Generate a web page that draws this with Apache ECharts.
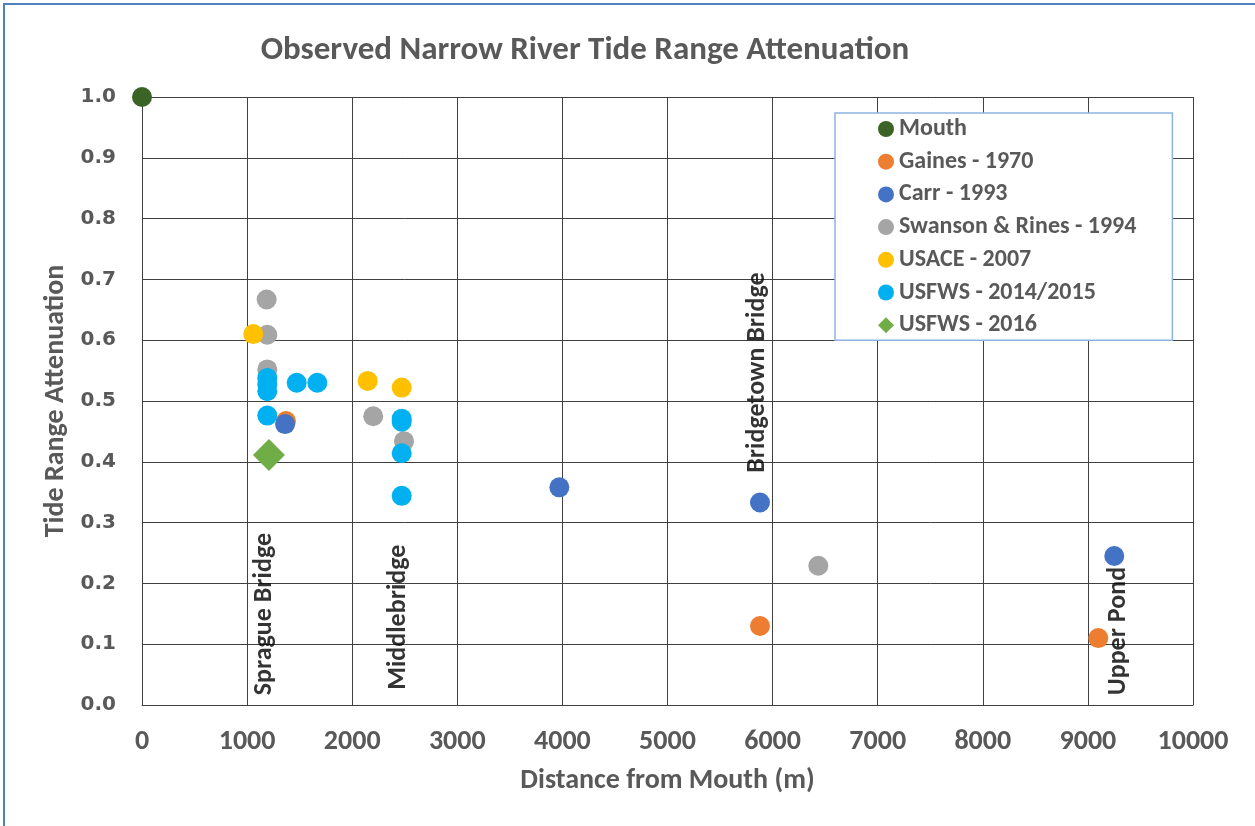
<!DOCTYPE html>
<html>
<head>
<meta charset="utf-8">
<script src="https://cdn.jsdelivr.net/npm/echarts@6/dist/echarts.min.js"></script>
<style>html,body{margin:0;padding:0;background:#fff}#c{width:1255px;height:826px}</style>
</head>
<body>
<div id="c"></div>
<script>
const xTicks = [0,1000,2000,3000,4000,5000,6000,7000,8000,9000,10000];
const yTicks = [0,0.1,0.2,0.3,0.4,0.5,0.6,0.7,0.8,0.9,1.0];
const mouth = [[0,1.0]];
const gaines = [[1370,0.467],[5880,0.130],[9099,0.110]];
const carr = [[1361,0.462],[3971,0.358],[5880,0.333],[9251,0.245]];
const swanson = [[1186,0.667],[1192,0.609],[1192,0.552],[2200,0.475],[2493,0.434],[6435,0.229]];
const usace = [[1059,0.610],[2147,0.533],[2471,0.522]];
const usfws1415 = [[1192,0.538],[1192,0.527],[1192,0.516],[1472,0.530],[1668,0.530],[1192,0.476],[2471,0.471],[2471,0.466],[2471,0.414],[2471,0.344]];
const usfws2016 = [[1208,0.411]];
const siteLabels = [[1170,0.016,'Sprague Bridge'],[2436,0.025,'Middlebridge'],[5861,0.382,'Bridgetown Bridge'],[9287,0.016,'Upper Pond']];

const FONT = 'Carlito, Lato, "Liberation Sans", sans-serif';
const WIDE = '"DejaVu Sans", Verdana, sans-serif';
const GRAY = '#595959';
const chart = echarts.init(document.getElementById('c'));
function sc(name, data, color, extra) {
  return Object.assign({
    name: name, type: 'scatter', data: data, symbol: 'circle', symbolSize: 20,
    itemStyle: {color: color, opacity: 1}
  }, extra || {});
}
chart.setOption({
  animation: false,
  backgroundColor: '#fff',
  graphic: [{type: 'rect', shape: {x: 4, y: 4, width: 1300, height: 900}, style: {fill: 'none', stroke: '#4f81bd', lineWidth: 2}, silent: true}],
  title: {text: 'Observed Narrow River Tide Range Attenuation', left: 580, top: 29, textAlign: 'center',
    textStyle: {fontFamily: FONT, fontSize: 33, fontWeight: 'bold', color: GRAY}},
  grid: {left: 142, right: 62, top: 97, bottom: 121},
  legend: {
    orient: 'vertical', left: 835, top: 113,
    backgroundColor: '#fff', borderColor: '#8db3e2', borderWidth: 1.5,
    padding: [4, 36, 3, 43], itemGap: 8.7, itemWidth: 16, itemHeight: 16,
    textStyle: {fontFamily: FONT, fontSize: 24, fontWeight: 'bold', color: GRAY, lineHeight: 24},
    data: ['Mouth','Gaines - 1970','Carr - 1993','Swanson & Rines - 1994','USACE - 2007','USFWS - 2014/2015','USFWS - 2016']
  },
  xAxis: {
    type: 'value', min: 0, max: 10000, interval: 1000,
    name: 'Distance from Mouth (m)', nameLocation: 'middle', nameGap: 62,
    nameTextStyle: {fontFamily: FONT, fontSize: 28, fontWeight: 'bold', color: GRAY},
    axisLine: {show: true, lineStyle: {color: '#404040'}}, axisTick: {show: false},
    axisLabel: {fontFamily: FONT, fontSize: 28, fontWeight: 'bold', color: GRAY, margin: 23, formatter: v => String(v)},
    splitLine: {show: true, lineStyle: {color: '#404040', width: 1}}
  },
  yAxis: {
    type: 'value', min: 0, max: 1.0, interval: 0.1,
    name: 'Tide Range Attenuation', nameLocation: 'middle', nameGap: 70,
    nameTextStyle: {fontFamily: FONT, fontSize: 28, fontWeight: 'bold', color: GRAY},
    axisLine: {show: true, lineStyle: {color: '#404040'}}, axisTick: {show: false},
    axisLabel: {fontFamily: WIDE, fontSize: 20, fontWeight: 'bold', color: GRAY, margin: 26, formatter: v => v.toFixed(1)},
    splitLine: {show: true, lineStyle: {color: '#404040', width: 1}}
  },
  series: [
    sc('Mouth', mouth, '#3b6325'),
    sc('Gaines - 1970', gaines, '#ed7d31'),
    sc('Carr - 1993', carr, '#4472c4'),
    sc('Swanson & Rines - 1994', swanson, '#a5a5a5'),
    sc('USACE - 2007', usace, '#ffc000'),
    sc('USFWS - 2014/2015', usfws1415, '#00b0f0'),
    sc('USFWS - 2016', usfws2016, '#70ad47', {symbol: 'diamond', symbolSize: 32}),
    {
      type: 'scatter', name: 'labels', data: siteLabels, symbolSize: 0, silent: true, z: 5,
      label: {show: true, position: 'inside', rotate: 90, align: 'left', verticalAlign: 'middle',
        formatter: p => p.value[2], fontFamily: FONT, fontSize: 26, fontWeight: 'bold', color: '#000'}
    }
  ]
});
</script>
</body>
</html>
